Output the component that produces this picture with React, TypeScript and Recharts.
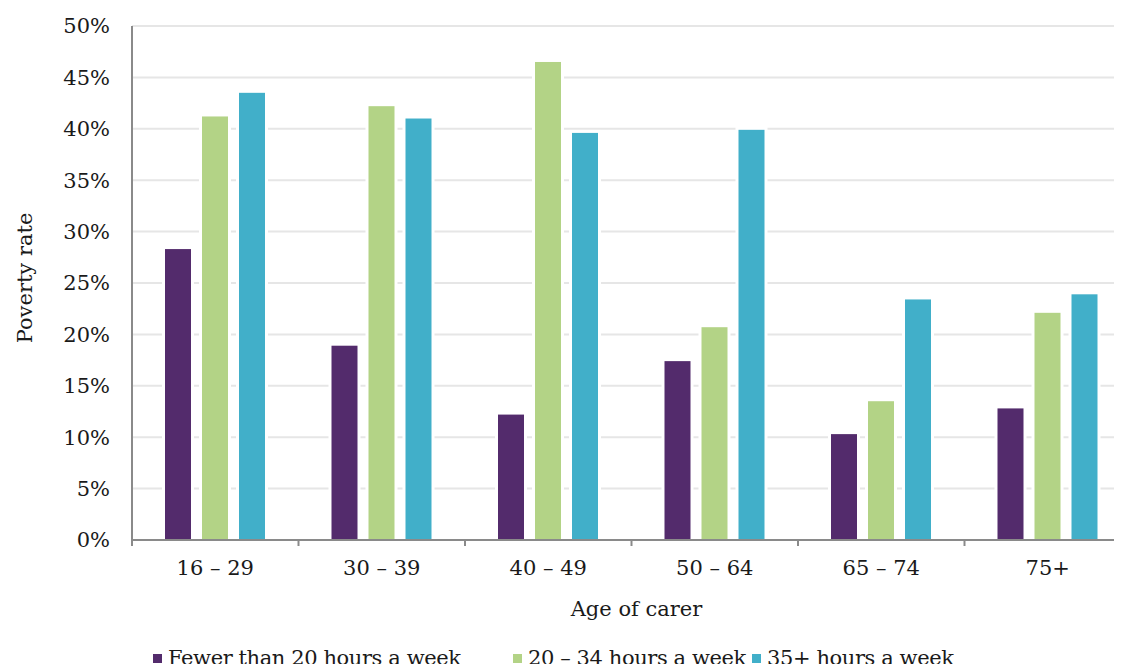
import { BarChart, Bar, XAxis, YAxis, CartesianGrid } from 'recharts'

const ageGroups = ['16 – 29', '30 – 39', '40 – 49', '50 – 64', '65 – 74', '75+']
const under20 = [28.3, 18.9, 12.2, 17.4, 10.3, 12.8]
const from20to34 = [41.2, 42.2, 46.5, 20.7, 13.5, 22.1]
const over35 = [43.5, 41.0, 39.6, 39.9, 23.4, 23.9]
const yTicks = [0, 5, 10, 15, 20, 25, 30, 35, 40, 45, 50]

const SERIES = [
  { key: 'under20', name: 'Fewer than 20 hours a week', color: '#532b6c' },
  { key: 'from20to34', name: '20 – 34 hours a week', color: '#b3d386' },
  { key: 'over35', name: '35+ hours a week', color: '#41afc9' },
]

const FONT = '"DejaVu Serif", serif'
const FS = 21
const CHART_W = 1131
const PLOT_LEFT = 132
const BAND = (CHART_W - PLOT_LEFT) / ageGroups.length

const data = ageGroups.map((age, i) => ({
  age,
  under20: under20[i],
  from20to34: from20to34[i],
  over35: over35[i],
}))

// bar with a white halo so gridlines stop short of it
function HaloBar(props: any) {
  const { x, y, width, height, fill } = props
  if (!height) return null
  return (
    <g>
      <rect x={x - 3} y={y - 3} width={width + 6} height={height + 3} fill="#fff" />
      <rect x={x} y={y} width={width} height={height} fill={fill} />
    </g>
  )
}

function AgeTick(props: any) {
  const { x, y, payload } = props
  const left = x - BAND / 2
  return (
    <g>
      <line x1={left} x2={left} y1={y - 8} y2={y - 2} stroke="#8a8a8a" strokeWidth={2} />
      <text x={x} y={y + 27} textAnchor="middle" fontFamily={FONT} fontSize={FS} fill="#1a1a1a">
        {payload.value}
      </text>
    </g>
  )
}

function LegendRow() {
  const lefts = [153, 513, 752]
  return (
    <>
      {SERIES.map((s, i) => (
        <div
          key={s.key}
          style={{
            position: 'absolute',
            left: lefts[i],
            top: 646,
            display: 'flex',
            alignItems: 'center',
            fontFamily: FONT,
            fontSize: FS,
            letterSpacing: -0.4,
            color: '#1a1a1a',
            whiteSpace: 'nowrap',
          }}
        >
          <span style={{ width: 9, height: 9, background: s.color, marginRight: 6, display: 'inline-block' }} />
          {s.name}
        </div>
      ))}
    </>
  )
}

export default function App() {
  return (
    <div style={{ position: 'relative', margin: -8, width: 1122, height: 672, overflow: 'hidden', background: '#fff' }}>
      <BarChart
        width={CHART_W}
        height={672}
        data={data}
        margin={{ top: 26, right: 0, bottom: 52, left: 0 }}
        barSize={26}
        barGap={11}
      >
        <CartesianGrid vertical={false} stroke="#e6e6e6" strokeWidth={2} />
        <XAxis
          dataKey="age"
          height={80}
          axisLine={{ stroke: '#8a8a8a', strokeWidth: 2 }}
          tickLine={false}
          tick={<AgeTick />}
          interval={0}
          label={{ value: 'Age of carer', position: 'insideBottom', offset: 4, fontFamily: FONT, fontSize: FS, fill: '#1a1a1a', dx: 5 }}
        />
        <YAxis
          width={PLOT_LEFT}
          domain={[0, 50]}
          ticks={yTicks}
          interval={0}
          axisLine={{ stroke: '#8a8a8a', strokeWidth: 2 }}
          tickLine={false}
          tickMargin={16}
          tickFormatter={(v: number) => `${v}%`}
          tick={{ fontFamily: FONT, fontSize: FS, fill: '#1a1a1a' }}
          label={{ value: 'Poverty rate', angle: -90, position: 'insideLeft', offset: 25, dy: -5, fontFamily: FONT, fontSize: FS, fill: '#1a1a1a', style: { textAnchor: 'middle' } }}
        />
        {SERIES.map(s => (
          <Bar key={s.key} dataKey={s.key} name={s.name} fill={s.color} shape={<HaloBar />} isAnimationActive={false} />
        ))}
      </BarChart>
      <LegendRow />
    </div>
  )
}
